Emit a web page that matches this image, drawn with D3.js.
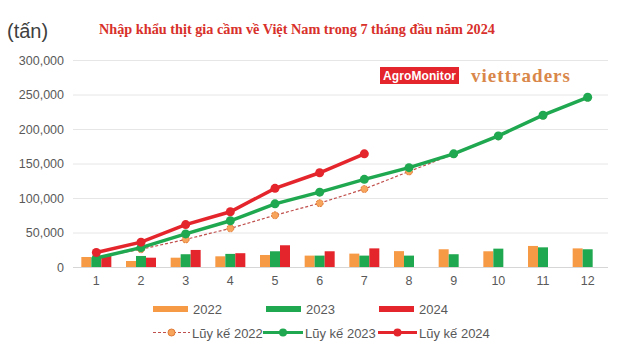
<!DOCTYPE html>
<html>
<head>
<meta charset="utf-8">
<script src="https://cdn.jsdelivr.net/npm/d3@7"></script>
<style>
    body { margin: 0; background: #fff; }
    svg { font-family: "Liberation Sans", Arial, sans-serif; }
</style>
</head>
<body>
<script>
const months = [1, 2, 3, 4, 5, 6, 7, 8, 9, 10, 11, 12];
const yTicks = [0, 50000, 100000, 150000, 200000, 250000, 300000];

// monthly imports (tonnes)
const monthly2022 = [14500, 8700, 13500, 15500, 17400, 16500, 19400, 23000, 25700, 22800, 30500, 27000];
const monthly2023 = [14000, 16000, 18500, 19000, 22800, 16500, 16500, 16500, 18500, 26600, 28500, 25700];
const monthly2024 = [16000, 13500, 24700, 20000, 31500, 22800, 27000];

// cumulative
const cum2022 = [14000, 25700, 40000, 56000, 75000, 92500, 113000, 138500, 163500, 189500, 219500, 245500];
const cum2023 = [13000, 28000, 48000, 67000, 91500, 108500, 127000, 144000, 164000, 190000, 220000, 246000];
const cum2024 = [21000, 36000, 61500, 80000, 114000, 136600, 164000];

const colors = {o: '#f79a46', g: '#1fa84f', r: '#e4252c'};
const serif = '"Liberation Serif", "Times New Roman", serif';

const width = 633;
const height = 354;

const svg = d3.select('body')
    .append('svg')
    .attr('width', width)
    .attr('height', height);

const x = d3.scaleBand().domain(months).range([74, 610]);
const sub = d3.scaleBand().domain([0, 1, 2]).range([-15, 15]);
const y = d3.scaleLinear().domain([0, 300000]).range([267, 60]);

// gridlines
svg.append('g')
    .selectAll('line')
    .data(yTicks)
    .enter()
    .append('line')
    .attr('x1', 73)
    .attr('x2', 608)
    .attr('y1', d => y(d) + 0.5)
    .attr('y2', d => y(d) + 0.5)
    .attr('stroke', d => d === 0 ? '#d6d6d6' : '#e6e6e6')
    .attr('stroke-width', 1);

// y axis labels
svg.append('g')
    .selectAll('text')
    .data(yTicks)
    .enter()
    .append('text')
    .attr('x', 64)
    .attr('y', d => y(d) + 4.5)
    .attr('text-anchor', 'end')
    .attr('font-size', 12.5)
    .attr('fill', '#595959')
    .text(d => d3.format(',')(d));

// x axis labels
svg.append('g')
    .selectAll('text')
    .data(months)
    .enter()
    .append('text')
    .attr('x', d => x(d) + x.bandwidth() / 2)
    .attr('y', 285)
    .attr('text-anchor', 'middle')
    .attr('font-size', 12.5)
    .attr('fill', '#595959')
    .text(d => d);

// bars
const barSeries = [[monthly2022, colors.o], [monthly2023, colors.g], [monthly2024, colors.r]];
barSeries.forEach(([values, color], i) =>
{
    svg.append('g')
        .selectAll('rect')
        .data(values)
        .enter()
        .append('rect')
        .attr('x', (d, j) => x(months[j]) + x.bandwidth() / 2 + sub(i))
        .attr('y', d => y(d))
        .attr('width', sub.bandwidth())
        .attr('height', d => y(0) - y(d))
        .attr('fill', color);
});

const cx = (d, j) => x(months[j]) + x.bandwidth() / 2;
const line = d3.line().x(cx).y(d => y(d));

// cumulative 2022 (dashed)
svg.append('path')
    .datum(cum2022)
    .attr('d', line)
    .attr('fill', 'none')
    .attr('stroke', '#c0504d')
    .attr('stroke-width', 1.2)
    .attr('stroke-dasharray', '3,2');
svg.append('g')
    .selectAll('circle')
    .data(cum2022)
    .enter()
    .append('circle')
    .attr('cx', cx)
    .attr('cy', d => y(d))
    .attr('r', 3.5)
    .attr('fill', '#f7a45c')
    .attr('stroke', '#e07b39')
    .attr('stroke-width', 1)
    .attr('stroke-dasharray', '2,1');

function solidLine(values, color)
{
    svg.append('path')
        .datum(values)
        .attr('d', line)
        .attr('fill', 'none')
        .attr('stroke', color)
        .attr('stroke-width', 3.5);
    svg.append('g')
        .selectAll('circle')
        .data(values)
        .enter()
        .append('circle')
        .attr('cx', cx)
        .attr('cy', d => y(d))
        .attr('r', 4.5)
        .attr('fill', color);
}
solidLine(cum2023, colors.g);
solidLine(cum2024, colors.r);

// unit + title
svg.append('text')
    .attr('x', 7)
    .attr('y', 38)
    .attr('font-size', 20)
    .attr('fill', '#404040')
    .text('(tấn)');

svg.append('text')
    .attr('x', 99)
    .attr('y', 34)
    .style('font-family', serif)
    .attr('font-weight', 'bold')
    .attr('font-size', 14)
    .attr('fill', '#d8302a')
    .attr('textLength', 396)
    .attr('lengthAdjust', 'spacingAndGlyphs')
    .text('Nhập khẩu thịt gia cầm về Việt Nam trong 7 tháng đầu năm 2024');

// logos
svg.append('rect')
    .attr('x', 380)
    .attr('y', 67)
    .attr('width', 79)
    .attr('height', 17)
    .attr('fill', '#e4252c');
svg.append('text')
    .attr('x', 419.5)
    .attr('y', 80)
    .attr('text-anchor', 'middle')
    .attr('font-size', 12)
    .attr('font-weight', 'bold')
    .attr('fill', '#fff')
    .attr('textLength', 73)
    .text('AgroMonitor');
svg.append('text')
    .attr('x', 471)
    .attr('y', 82)
    .style('font-family', serif)
    .attr('font-weight', 'bold')
    .attr('font-size', 19)
    .attr('fill', '#d9874a')
    .attr('textLength', 99)
    .text('viettraders');

// legend
const legendBars = [['2022', colors.o, 153], ['2023', colors.g, 266], ['2024', colors.r, 379]];
legendBars.forEach(([label, color, lx]) =>
{
    svg.append('rect')
        .attr('x', lx)
        .attr('y', 306)
        .attr('width', 35)
        .attr('height', 6)
        .attr('fill', color);
    svg.append('text')
        .attr('x', lx + 40)
        .attr('y', 314)
        .attr('font-size', 13)
        .attr('fill', '#595959')
        .text(label);
});

const legendLines = [['Lũy kế 2022', 153, 190, 0], ['Lũy kế 2023', 263, 303, 1], ['Lũy kế 2024', 378, 417, 2]];
legendLines.forEach(([label, x1, x2, k]) =>
{
    const ly = 332.5;
    const mid = (x1 + x2) / 2;
    const color = k === 0 ? '#c0504d' : (k === 1 ? colors.g : colors.r);
    svg.append('line')
        .attr('x1', x1)
        .attr('x2', x2)
        .attr('y1', ly)
        .attr('y2', ly)
        .attr('stroke', color)
        .attr('stroke-width', k === 0 ? 1.2 : 3)
        .attr('stroke-dasharray', k === 0 ? '3,2' : null);
    svg.append('circle')
        .attr('cx', mid)
        .attr('cy', ly)
        .attr('r', k === 0 ? 3.5 : 4)
        .attr('fill', k === 0 ? '#f7a45c' : color)
        .attr('stroke', k === 0 ? '#e07b39' : 'none');
    svg.append('text')
        .attr('x', x2 + 2)
        .attr('y', ly + 5)
        .attr('font-size', 13)
        .attr('fill', '#595959')
        .text(label);
});
</script>
</body>
</html>
